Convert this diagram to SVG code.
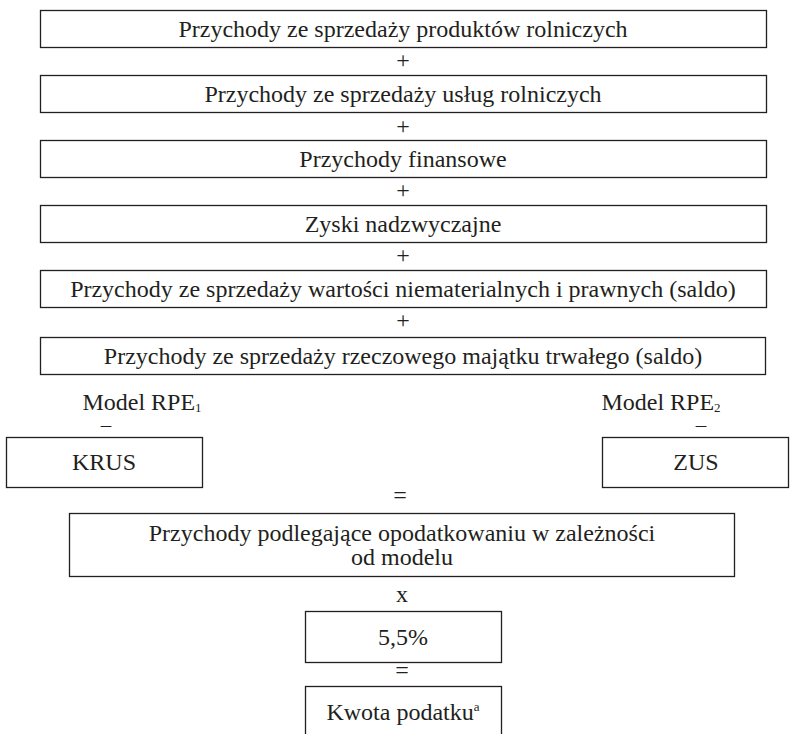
<svg xmlns="http://www.w3.org/2000/svg" width="790" height="734" viewBox="0 0 790 734">
<style>
  .box { fill: #ffffff; stroke: #231f20; stroke-width: 1.3; }
  text { font-family: "Liberation Serif", "Times New Roman", serif; font-size: 24px; fill: #231f20; text-anchor: middle; }
  .sub { font-size: 13px; }
  .minus { font-size: 21px; }
</style>
<rect width="790" height="734" fill="#ffffff"/>
<g id="n1"><rect class="box" x="40.5" y="10.5" width="726" height="37"/><text x="403" y="37">Przychody ze sprzedaży produktów rolniczych</text></g>
<g id="n2"><rect class="box" x="40.5" y="75.5" width="726" height="37"/><text x="403" y="102">Przychody ze sprzedaży usług rolniczych</text></g>
<g id="n3"><rect class="box" x="40.5" y="140.5" width="726" height="37"/><text x="403" y="167">Przychody finansowe</text></g>
<g id="n4"><rect class="box" x="40.5" y="205.5" width="726" height="37"/><text x="403" y="232">Zyski nadzwyczajne</text></g>
<g id="n5"><rect class="box" x="40.5" y="270.5" width="726" height="37"/><text x="403" y="297">Przychody ze sprzedaży wartości niematerialnych i prawnych (saldo)</text></g>
<g id="n6"><rect class="box" x="40.5" y="337.5" width="725" height="37"/><text x="403" y="364">Przychody ze sprzedaży rzeczowego majątku trwałego (saldo)</text></g>
<g id="model1"><text x="142" y="410">Model RPE<tspan class="sub" dy="2">1</tspan></text></g>
<g id="model2"><text x="661" y="410">Model RPE<tspan class="sub" dy="2">2</tspan></text></g>
<g id="krus"><rect class="box" x="6.5" y="437.5" width="196" height="50"/><text x="104" y="470">KRUS</text></g>
<g id="zus"><rect class="box" x="602.5" y="437.5" width="186" height="50"/><text x="696" y="470">ZUS</text></g>
<g id="base"><rect class="box" x="69.5" y="513.5" width="665" height="63"/><text x="402" y="541">Przychody podlegające opodatkowaniu w zależności</text><text x="402" y="565">od modelu</text></g>
<g id="rate"><rect class="box" x="305.5" y="611.5" width="196" height="51"/><text x="403" y="645">5,5%</text></g>
<g id="tax"><rect class="box" x="305.5" y="686.5" width="196" height="60"/><text x="403" y="720">Kwota podatku<tspan class="sub" dy="-9">a</tspan></text></g>
<g id="connectors">
  <text x="403" y="68">+</text>
  <text x="403" y="134">+</text>
  <text x="403" y="198">+</text>
  <text x="403" y="263">+</text>
  <text x="403" y="328">+</text>
  <text class="minus" x="106" y="432">–</text>
  <text class="minus" x="701" y="432">–</text>
  <text x="400" y="503">=</text>
  <text x="402" y="602">x</text>
  <text x="402" y="678">=</text>
</g>
</svg>
